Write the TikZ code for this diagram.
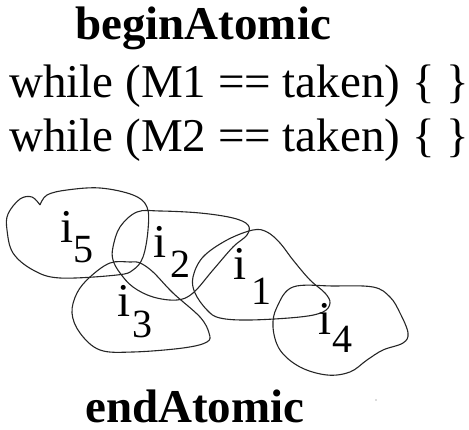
\documentclass[tikz,border=0pt]{standalone}
\usepackage{fontspec}
\setmainfont{Liberation Serif}
\begin{document}
\begin{tikzpicture}[x=1pt,y=-1pt,
  txt/.style={inner sep=0pt,anchor=base west,text depth=0pt,font=\fontsize{47}{47}\selectfont},
  btxt/.style={txt,font=\fontsize{47}{47}\selectfont\bfseries},
  lab/.style={inner sep=0pt,anchor=base west,font=\fontsize{47}{47}\selectfont},
  sub/.style={inner sep=0pt,anchor=base west,font=\fontsize{40}{40}\selectfont},
  blob/.style={draw=black!85,line width=1.1pt,line join=round}]
\useasboundingbox (0,0) rectangle (469,430);

% code lines
\node[btxt] (begin) at (75,40) {beginAtomic};
\node[txt] (w1) at (9,98) {while (M1 == taken) \{ \}};
\node[txt] (w2) at (9,152) {while (M2 == taken) \{ \}};
\node[btxt] (end) at (85,423) {endAtomic};

% regions
\draw[blob] plot[smooth,tension=0.6] coordinates {
  (40,205) (47,195) (67,190) (100,188) (133,195) (147,207) (148,230)
  (143,257) (133,270) (117,275) (60,278) (33,270) (13,253) (7,230)
  (8,214) (20,199) (32,197) (40,205)};
\draw[blob] plot[smooth cycle,tension=0.6] coordinates {
  (113,247) (120,227) (137,212) (160,211) (200,213) (233,218) (248,225)
  (247,235) (233,247) (213,270) (193,293) (177,300) (153,297) (133,287)
  (120,273) (113,260)};
\draw[blob] plot[smooth cycle,tension=0.6] coordinates {
  (130,262) (110,263) (90,277) (77,293) (72,313) (80,333) (100,350)
  (133,352) (183,348) (207,342) (209,333) (200,317) (173,293) (153,272)
  (140,263)};
\draw[blob] plot[smooth cycle,tension=0.6] coordinates {
  (253,230) (227,240) (203,257) (193,277) (195,293) (207,310) (220,318)
  (250,320) (300,317) (323,312) (330,303) (325,293) (310,280) (293,260)
  (280,243) (267,232)};
\draw[blob] plot[smooth cycle,tension=0.6] coordinates {
  (293,287) (333,286) (373,287) (390,297) (400,313) (408,333) (403,343)
  (383,350) (367,360) (350,372) (327,375) (300,367) (280,350) (273,327)
  (277,307)};

% labels
\node[lab] (i5) at (60,243) {i};  \node[sub] (i5s) at (73,263) {5};
\node[lab] (i2) at (153,258) {i}; \node[sub] (i2s) at (170,278) {2};
\node[lab] (i1) at (233,280) {i}; \node[sub] (i1s) at (251,305) {1};
\node[lab] (i3) at (117,317) {i}; \node[sub] (i3s) at (132,338) {3};
\node[lab] (i4) at (318,335) {i}; \node[sub] (i4s) at (332,353) {4};

% stray speck
\fill[black!60] (376,400) circle (0.7);
\end{tikzpicture}
\end{document}
